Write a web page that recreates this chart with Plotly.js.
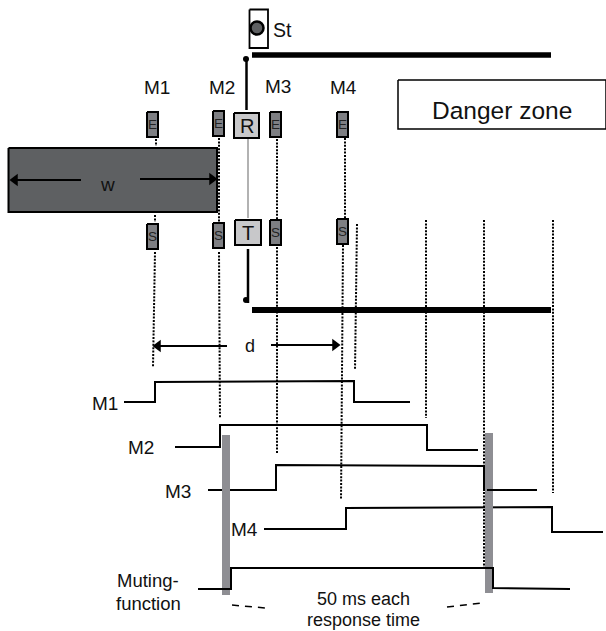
<!DOCTYPE html>
<html><head><meta charset="utf-8">
<script src="https://cdn.plot.ly/plotly-3.0.1.min.js"></script>
<style>html,body{margin:0;padding:0;background:#fff}#c{width:606px;height:631px}</style>
</head><body><div id="c"></div>
<script>
// Timing signals
const m1X=[124,155,155,354,354,410], m1Y=[402,402,382,381,402,402];
const m2X=[175,220,220,427,427,478], m2Y=[447,447,425,425,450,450];
const m3X=[208,276,276,484,484], m3Y=[490,490,465,466,491];
const m3LowX=[487,537], m3LowY=[490,490];
const m4X=[264,346,346,552,552,603], m4Y=[529,529,508,507,532,532];
const muteX=[198,231,231,493,493,570], muteY=[589,589,568,568,588,589];
// Dotted sight lines [x0,y0,x1,y1]
const dotted=[[156,139,156,146],[155,215,155,222],[155,252,153,367],
 [219,138,219,222],[219,252,220,418],
 [277,139,277,220],[277,247,277,453],
 [345,138,345,219],[343,245,341,500],
 [357,224,355,370],[426,220,426,418],[484,220,484,567],[553,220,553,493]];
// Sensors
const sensorLabels=["E","E","E","E","S","S","S","S"];
const sensorX0=[147,213,270,337,147,213,270,337];
const sensorY0=[112,111,112,112,224,223,220,219];
const sensorW=11, sensorH=25;
// Text
const topLabels=["M1","M2","M3","M4"], topX=[157,222,278,343], topY=[87,87,86,87];
const sideLabels=["M1","M2","M3","M4"], sideX=[105,141,178,244], sideY=[403,447,491,529];

const T=[];
function line(x,y,w,c,dash){T.push({type:'scatter',mode:'lines',x,y,line:{width:w,color:c,dash:dash||'solid',shape:'linear'},hoverinfo:'skip'});}
function rect(x0,x1,y0,y1,fill,w,lc){T.push({type:'scatter',mode:'lines',x:[x0,x1,x1,x0,x0],y:[y0,y0,y1,y1,y0],fill:'toself',fillcolor:fill,line:{width:w,color:lc},hoverinfo:'skip'});}
function mark(x,y,sym,size,c,lw,lc){T.push({type:'scatter',mode:'markers',x:[x],y:[y],marker:{symbol:sym,size,color:c,line:{width:lw||0,color:lc||c}},hoverinfo:'skip'});}

dotted.forEach(d=>line([d[0],d[2]],[d[1],d[3]],2,'#000','2px,1.4px'));
// bars & posts
line([252,551],[55,55],5.5,'#000');
line([252,551],[310,310],6,'#000');
line([246.5,246.5],[58,110],2.5,'#000');
line([248,248],[249,303],2.5,'#000');
line([248,248],[138,218],1.5,'#999');
mark(246,59,'circle',6,'#000');
mark(246,300,'circle',6,'#000');
// St
rect(249.5,268,9.5,48,'#fff',1.8,'#000');
mark(257,28,'circle',13,'#5e6062',2.5,'#000');
// R/T
rect(234,259,113,138,'#c8c8ca',2,'#000');
rect(235,261,220,245,'#c8c8ca',2,'#000');
// sensors
sensorX0.forEach((x,i)=>rect(x,x+sensorW,sensorY0[i],sensorY0[i]+sensorH,'#7e7f83',2,'#000'));
// workpiece
rect(8.5,217,148,212,'#5e6062',2,'#000');
line([81,14],[180,180],2,'#000');
line([140,212],[179,179],2,'#000');
mark(15,180,'triangle-left',11,'#000');
mark(212,179,'triangle-right',11,'#000');
// danger
rect(398,606,80,129,'#fff',1.5,'#000');
// d arrows
line([227,158],[346,346],2,'#000');
line([271,335],[345,345],2,'#000');
mark(158,346,'triangle-left',11,'#000');
mark(335,345,'triangle-right',11,'#000');
// signals
line(m1X,m1Y,2,'#000');
line(m2X,m2Y,2,'#000');
line(m3X,m3Y,2,'#000');
line(m4X,m4Y,2,'#000');
// grey response bars
rect(222,230,435,595,'#8e8e93',0,'#8e8e93');
rect(485,493,433,593,'#8e8e93',0,'#8e8e93');
line(m3LowX,m3LowY,2,'#000');
line(muteX,muteY,2,'#000');
// dashes
line([232,265],[605,608],1.5,'#000','7px,6px');
line([447,481],[607,603],1.5,'#000','7px,6px');

const FF='"Liberation Sans",Arial,sans-serif';
const A=[];
function txt(x,y,t,s,c){A.push({x,y,text:t,showarrow:false,xref:'x',yref:'y',xanchor:'center',yanchor:'middle',font:{family:FF,size:s,color:c||'#111'}});}
topLabels.forEach((t,i)=>txt(topX[i],topY[i],t,19));
sideLabels.forEach((t,i)=>txt(sideX[i],sideY[i],t,19));
sensorLabels.forEach((t,i)=>txt(sensorX0[i]+sensorW/2,sensorY0[i]+sensorH/2,t,13.5,'#222'));
txt(282,30,'St',19.5);
txt(246.5,126,'R',20);
txt(248,233,'T',20);
txt(107,184,'w',19);
txt(250,346,'d',18);
txt(502,110,'Danger zone',24.5);
txt(148,580,'Muting-',18.5);
txt(148,603,'function',18.5);
txt(363,598.5,'50 ms each',18);
txt(363,620,'response time',18);

const hid={visible:false,fixedrange:true};
Plotly.newPlot('c',T,{
 width:606,height:631,margin:{l:0,r:0,t:0,b:0},showlegend:false,
 paper_bgcolor:'#fff',plot_bgcolor:'#fff',hovermode:false,
 xaxis:Object.assign({range:[0,606]},hid),
 yaxis:Object.assign({range:[631,0]},hid),
 annotations:A
},{displayModeBar:false,staticPlot:true});
</script></body></html>
